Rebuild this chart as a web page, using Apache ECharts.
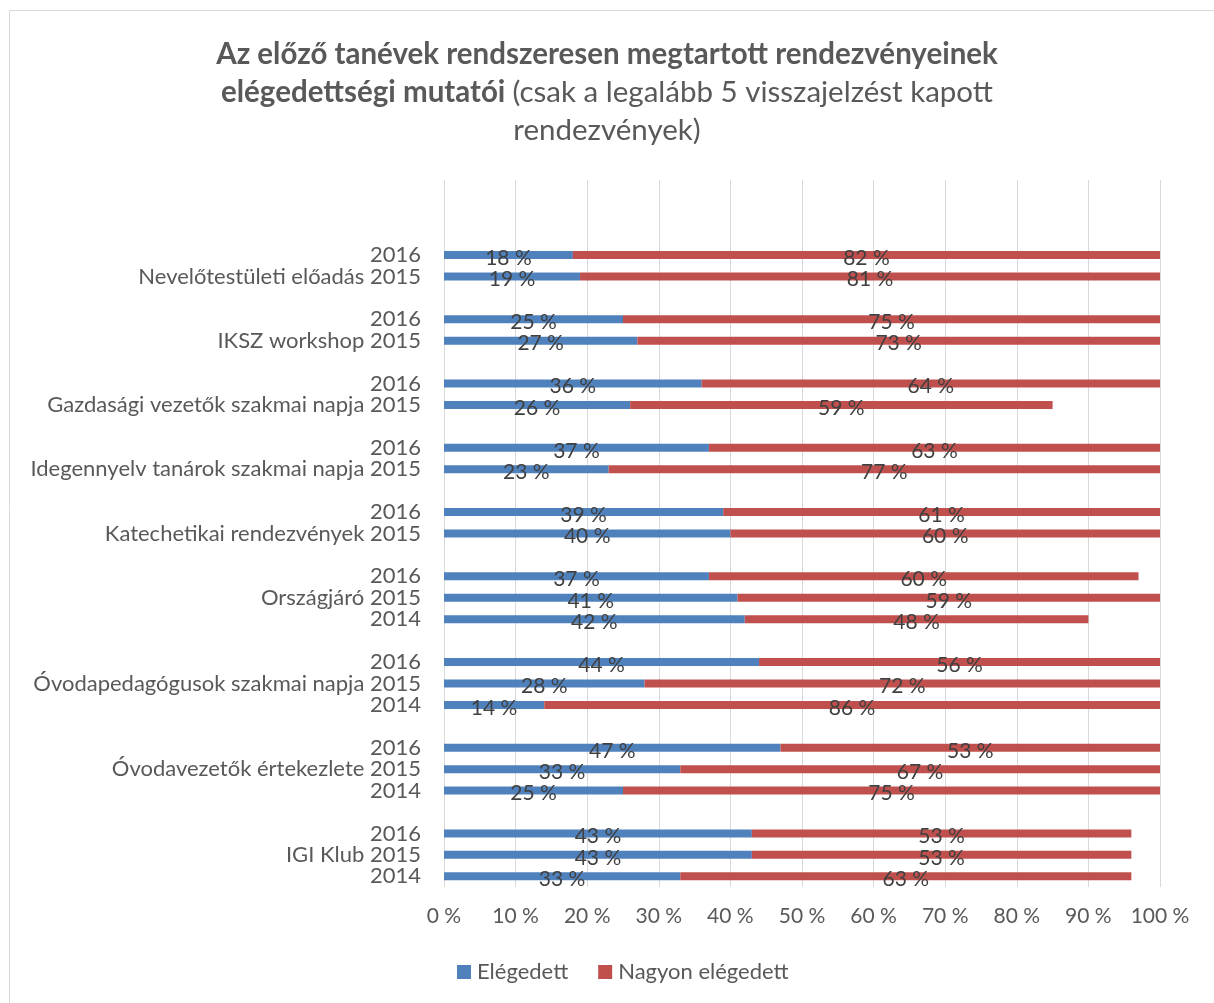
<!DOCTYPE html>
<html>
<head>
<meta charset="utf-8">
<script src="https://cdn.jsdelivr.net/npm/echarts@6/dist/echarts.min.js"></script>
<style>
html,body{margin:0;padding:0;background:#fff;}
#chart{width:1214px;height:1003px;}
</style>
</head>
<body>
<div id="chart"></div>
<script>
// Category labels (top to bottom); empty strings are spacer rows
const categories = [
  '', '', '',
  '2016', 'Nevelőtestületi előadás 2015', '',
  '2016', 'IKSZ workshop 2015', '',
  '2016', 'Gazdasági vezetők szakmai napja 2015', '',
  '2016', 'Idegennyelv tanárok szakmai napja 2015', '',
  '2016', 'Katechetikai rendezvények 2015', '',
  '2016', 'Országjáró 2015', '2014', '',
  '2016', 'Óvodapedagógusok szakmai napja 2015', '2014', '',
  '2016', 'Óvodavezetők értekezlete 2015', '2014', '',
  '2016', 'IGI Klub 2015', '2014'
];
const elegedett = [
  null, null, null,
  18, 19, null,
  25, 27, null,
  36, 26, null,
  37, 23, null,
  39, 40, null,
  37, 41, 42, null,
  44, 28, 14, null,
  47, 33, 25, null,
  43, 43, 33
];
const nagyonElegedett = [
  null, null, null,
  82, 81, null,
  75, 73, null,
  64, 59, null,
  63, 77, null,
  61, 60, null,
  60, 59, 48, null,
  56, 72, 86, null,
  53, 67, 75, null,
  53, 53, 63
];
const seriesNames = ['Elégedett', 'Nagyon elégedett'];

const FONT = 'Lato';
const TXT = '#595959';
const chart = echarts.init(document.getElementById('chart'));
const labelCfg = {
  show: true,
  position: 'inside',
  formatter: p => p.value == null ? '' : p.value + ' %',
  color: '#404040',
  fontFamily: FONT,
  fontSize: 21,
  offset: [0, 3]
};
chart.setOption({
  animation: false,
  textStyle: { fontFamily: FONT },
  graphic: [{
    type: 'rect',
    shape: { x: 9.5, y: 10.5, width: 1300, height: 1100 },
    style: { fill: 'none', stroke: '#d9d9d9', lineWidth: 1 },
    silent: true
  }],
  title: {
    left: 'center',
    top: 35,
    padding: 0,
    text: '{b|Az előző tanévek rendszeresen megtartott rendezvényeinek}\n{b|elégedettségi mutatói} {n|(csak a legalább 5 visszajelzést kapott}\n{n|rendezvények)}',
    textStyle: {
      color: TXT,
      fontFamily: FONT,
      fontSize: 29.5,
      lineHeight: 38,
      rich: {
        b: { fontWeight: 'bold', fontSize: 29.5, lineHeight: 38, color: TXT, fontFamily: FONT },
        n: { fontWeight: 'normal', fontSize: 29.5, lineHeight: 38, color: TXT, fontFamily: FONT }
      }
    }
  },
  legend: {
    top: 956,
    left: 452,
    icon: 'rect',
    itemWidth: 14,
    itemHeight: 14,
    itemGap: 30,
    textStyle: { color: TXT, fontSize: 22, fontFamily: FONT, padding: [0, 0, 0, 1] },
    data: seriesNames
  },
  grid: { left: 444, right: 54, top: 180, bottom: 116, containLabel: false },
  xAxis: {
    type: 'value',
    min: 0, max: 100, interval: 10,
    axisLine: { show: false },
    axisTick: { show: false },
    axisLabel: { formatter: '{value} %', color: TXT, fontSize: 21, fontFamily: FONT, margin: 19 },
    splitLine: { show: true, lineStyle: { color: '#d9d9d9', width: 1 } }
  },
  yAxis: {
    type: 'category',
    inverse: true,
    data: categories,
    axisLine: { show: false },
    axisTick: { show: false },
    axisLabel: { color: TXT, fontSize: 22, fontFamily: FONT, margin: 23, interval: 0 }
  },
  series: [
    {
      name: seriesNames[0], type: 'bar', stack: 'total', barWidth: 8,
      itemStyle: { color: '#4F81BD' },
      label: labelCfg,
      data: elegedett
    },
    {
      name: seriesNames[1], type: 'bar', stack: 'total', barWidth: 8,
      itemStyle: { color: '#C0504D' },
      label: labelCfg,
      data: nagyonElegedett
    }
  ]
});
</script>
</body>
</html>
